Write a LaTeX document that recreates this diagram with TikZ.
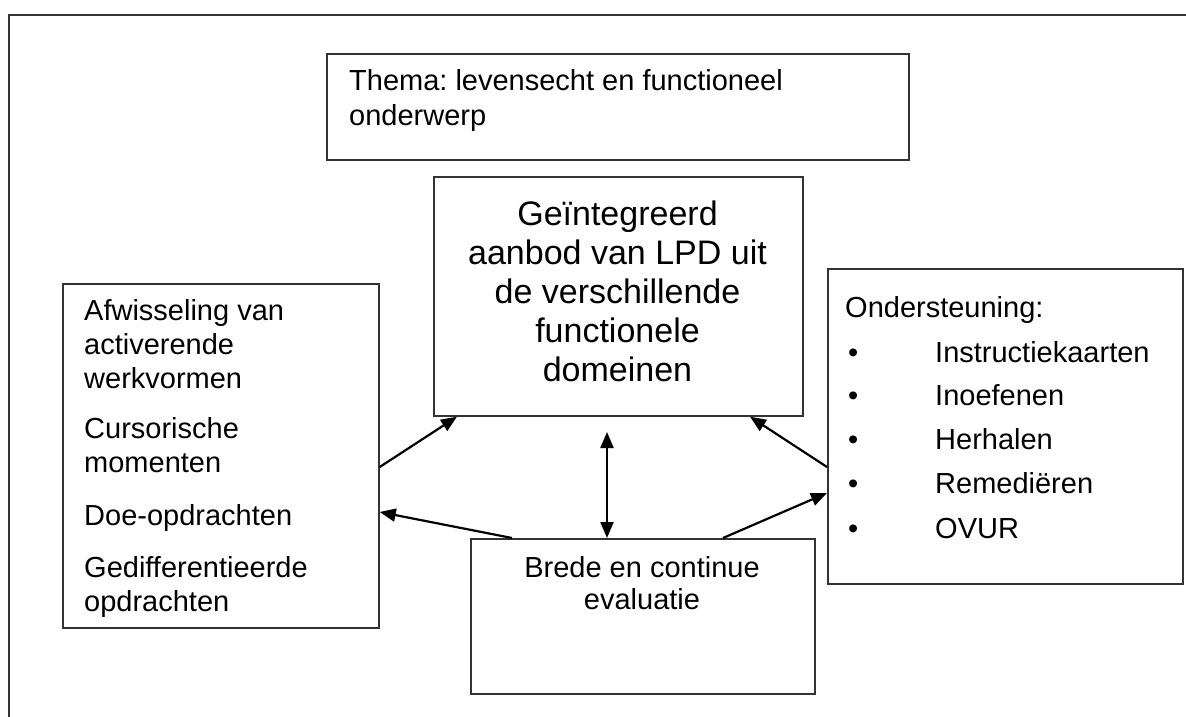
\documentclass[tikz,border=0pt]{standalone}
\usepackage{fontspec}
\setmainfont{Liberation Sans}
\usetikzlibrary{arrows.meta}
\definecolor{linegray}{HTML}{333333}
\frenchspacing
\tikzset{
  box/.style={draw=linegray, line width=1.7pt, anchor=north west, inner sep=0pt},
  txt/.style={anchor=base west, inner sep=0pt, font=\fontsize{29}{33}\selectfont},
  ctxt/.style={anchor=base, inner sep=0pt, font=\fontsize{29}{33}\selectfont},
  bigtxt/.style={anchor=base, inner sep=0pt, font=\fontsize{34}{39}\selectfont},
  conn/.style={line width=2.2pt, black, -{Triangle[length=16pt,width=13pt]}},
  dconn/.style={line width=2.2pt, black, {Triangle[length=16pt,width=13pt]}-{Triangle[length=16pt,width=13pt]}},
  frame/.style={draw=linegray, line width=2pt}
}
\begin{document}
\begin{tikzpicture}[x=1pt,y=-1pt]
\useasboundingbox[fill=white] (0,0) rectangle (1186,717);
\draw[frame] (9,717) -- (9,15) -- (1186,15);

% boxes
\node[box, minimum width=582pt, minimum height=106pt] (thema) at (326,53) {};
\node[box, minimum width=369pt, minimum height=239pt] (C) at (433,176) {};
\node[box, minimum width=316pt, minimum height=344pt] (L) at (62,283) {};
\node[box, minimum width=355pt, minimum height=315pt] (R) at (827,268) {};
\node[box, minimum width=344pt, minimum height=155pt] (B) at (470,538) {};

% thema text
\node[txt] (t1) at (349,91) {Thema: levensecht en functioneel};
\node[txt] (t2) at (349,125) {onderwerp};

% central text
\node[bigtxt] (c1) at (617.5,225) {Geïntegreerd};
\node[bigtxt] (c2) at (617.5,264) {aanbod van LPD uit};
\node[bigtxt] (c3) at (617.5,303) {de verschillende};
\node[bigtxt] (c4) at (617.5,342) {functionele};
\node[bigtxt] (c5) at (617.5,381) {domeinen};

% left text
\node[txt] (l1) at (84,320) {Afwisseling van};
\node[txt] (l2) at (84,354) {activerende};
\node[txt] (l3) at (84,388) {werkvormen};
\node[txt] (l4) at (84,438) {Cursorische};
\node[txt] (l5) at (84,472) {momenten};
\node[txt] (l6) at (84,525) {Doe-opdrachten};
\node[txt] (l7) at (84,577) {Gedifferentieerde};
\node[txt] (l8) at (84,611) {opdrachten};

% right text
\node[txt] (r0) at (845,317) {Ondersteuning:};
\node[txt] (rb1) at (848,362) {•};
\node[txt] (r1) at (935,362) {Instructiekaarten};
\node[txt] (rb2) at (848,405) {•};
\node[txt] (r2) at (935,405) {Inoefenen};
\node[txt] (rb3) at (848,449) {•};
\node[txt] (r3) at (935,449) {Herhalen};
\node[txt] (rb4) at (848,493) {•};
\node[txt] (r4) at (935,493) {Remediëren};
\node[txt] (rb5) at (848,538) {•};
\node[txt] (r5) at (935,538) {OVUR};

% bottom text
\node[ctxt] (b1) at (642,577) {Brede en continue};
\node[ctxt] (b2) at (642,609) {evaluatie};

% connectors
\coordinate (vtop) at (607,432);
\draw[conn] (L.east |- 0,467) -- (C.south -| 457,0);
\draw[conn] (B.north -| 512,0) -- (L.east |- 0,512);
\draw[dconn] (vtop) -- (B.north -| 607,0);
\draw[conn] (R.west |- 0,467) -- (C.south -| 750,0);
\draw[conn] (B.north -| 723,0) -- (R.west |- 0,493);
\end{tikzpicture}
\end{document}
